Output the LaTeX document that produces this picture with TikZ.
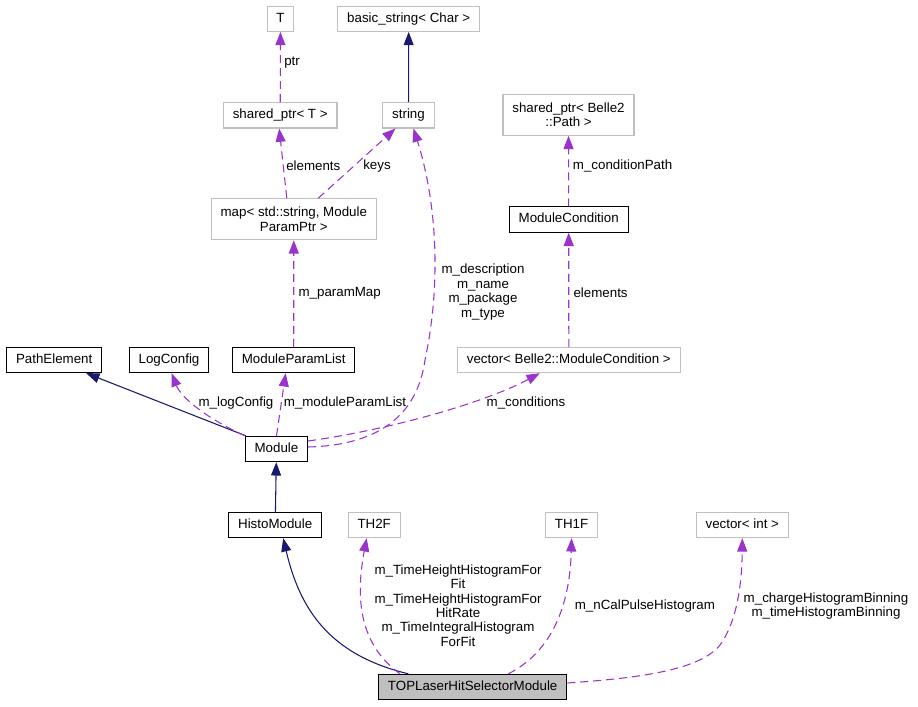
\documentclass[tikz,border=0pt]{standalone}
\usepackage{fontspec}
\setmainfont{Liberation Sans}
\usetikzlibrary{positioning,calc,arrows.meta}
\definecolor{grey75}{RGB}{191,191,191}
\definecolor{navy}{RGB}{25,25,112}
\definecolor{orchid}{RGB}{154,50,205}

\begin{document}
\begin{tikzpicture}[x=0.75pt,y=-0.75pt,
    font=\fontsize{10}{10.8}\selectfont,
    box/.style={fill=white,line width=0.8pt,inner xsep=7pt,inner ysep=0pt,minimum height=19pt},
    cls/.style={box,draw=black,text height=7.3pt,text depth=2.1pt},
    ext/.style={box,draw=grey75,text height=7.3pt,text depth=2.1pt},
    ext2/.style={box,draw=grey75,align=center,minimum height=30.75pt},
    inh/.style={navy,line width=0.8pt,-{Triangle[length=10pt,width=7.5pt]}},
    use/.style={orchid,line width=0.8pt,dash pattern=on 6pt off 3.75pt,-{Triangle[length=10pt,width=7.5pt]}},
    lbl/.style={inner sep=0pt,align=center,text=black}]
    \useasboundingbox (0,0) rectangle (918,707);
    % classes
    \node[ext] (tt) at (280.5,18.7) {T};
    \node[ext] (bstr) at (408.7,18.7) {basic\_string< Char >};
    \node[ext] (sptrT) at (280.2,115.3) {shared\_ptr< T >};
    \node[ext] (str) at (408.5,115.3) {string};
    \node[ext2] (sptrP) at (568.5,114.8) {shared\_ptr< Belle2\\::Path >};
    \node[ext2] (map) at (293.8,219.2) {map< std::string, Module\\ParamPtr >};
    \node[cls] (mcond) at (568.7,219.5) {ModuleCondition};
    \node[cls] (pelem) at (54.2,360) {PathElement};
    \node[cls] (logc) at (169,360) {LogConfig};
    \node[cls] (mplist) at (293.7,360) {ModuleParamList};
    \node[ext] (vmc) at (568.8,360) {vector< Belle2::ModuleCondition >};
    \node[cls] (mod) at (276.5,449) {Module};
    \node[cls] (histo) at (275.2,525) {HistoModule};
    \node[ext] (th2f) at (374.2,525) {TH2F};
    \node[ext] (th1f) at (571.6,525) {TH1F};
    \node[ext] (vint) at (742.3,525) {vector< int >};
    \node[cls,fill=grey75] (top) at (472.7,687) {TOPLaserHitSelectorModule};
    %
    % inheritance
    \draw[inh] (str) -- (bstr);
    \draw[inh] ($(mod.north west)+(1,0)$) -- ($(pelem.south)+(32,0)$);
    \draw[inh] (histo) -- (mod);
    \draw[inh] ($(top.north)+(-64.4,0)$) .. controls (330,655) and (300,610) .. ($(histo.south)+(8,0)$);
    %
    % usage
    \draw[use] (sptrT) -- (tt);
    \draw[use] ($(map.north)+(-7,0)$) -- ($(sptrT.south)+(-1,0)$);
    \draw[use] ($(map.north)+(24.5,0)$) -- ($(str.south)+(-13,0)$);
    \draw[use] ($(mod.east)+(0,-2)$) .. controls (385,445) and (418,410) .. (425,360)
        .. controls (442,280) and (436,200) .. ($(str.south)+(5,0)$);
    \draw[use] (mcond) -- (sptrP);
    \draw[use] (vmc) -- (mcond);
    \draw[use] (mplist) -- (map);
    \draw[use] (mod.north west) .. controls (200,415) and (180,395) .. ($(logc.south)+(2.6,0)$);
    \draw[use] (mod.north) -- ($(mplist.south)+(-8,0)$);
    \draw[use] ($(mod.east)+(0,-8)$) .. controls (400,428) and (490,400) .. ($(vmc.south)+(-29,0)$);
    \draw[use] ($(top.north)+(-72.7,0)$) .. controls (360,645) and (355,600) .. ($(th2f.south)+(-7.5,0)$);
    \draw[use] ($(top.north)+(35.7,0)$) .. controls (555,650) and (570,600) .. (th1f.south);
    \draw[use] ($(top.east)+(0,-4)$) .. controls (640,678) and (700,670) .. (720,645)
        .. controls (738,620) and (742,580) .. (vint.south);
    %
    % labels
    \node[lbl,anchor=west] (l_ptr) at (284,62.7) {ptr};
    \node[lbl,anchor=west] (l_elem) at (286,166) {elements};
    \node[lbl,anchor=west] (l_keys) at (363,166) {keys};
    \node[lbl,anchor=west] (l_cpath) at (572.7,166) {m\_conditionPath};
    \node[lbl] (l_desc) at (483,292) {m\_description\\m\_name\\m\_package\\m\_type};
    \node[lbl,anchor=west] (l_pmap) at (298.3,293.3) {m\_paramMap};
    \node[lbl,anchor=west] (l_elem2) at (573.3,292.3) {elements};
    \node[lbl] (l_log) at (236,403.3) {m\_logConfig};
    \node[lbl,anchor=west] (l_mpl) at (283.6,403.3) {m\_moduleParamList};
    \node[lbl] (l_cond) at (526,403.3) {m\_conditions};
    \node[lbl] (l_th2f) at (458,605.6) {m\_TimeHeightHistogramFor\\Fit\\m\_TimeHeightHistogramFor\\HitRate\\m\_TimeIntegralHistogram\\ForFit};
    \node[lbl,anchor=west] (l_th1f) at (574.6,606) {m\_nCalPulseHistogram};
    \node[lbl] (l_bin) at (826,606) {m\_chargeHistogramBinning\\m\_timeHistogramBinning};
\end{tikzpicture}
\end{document}
